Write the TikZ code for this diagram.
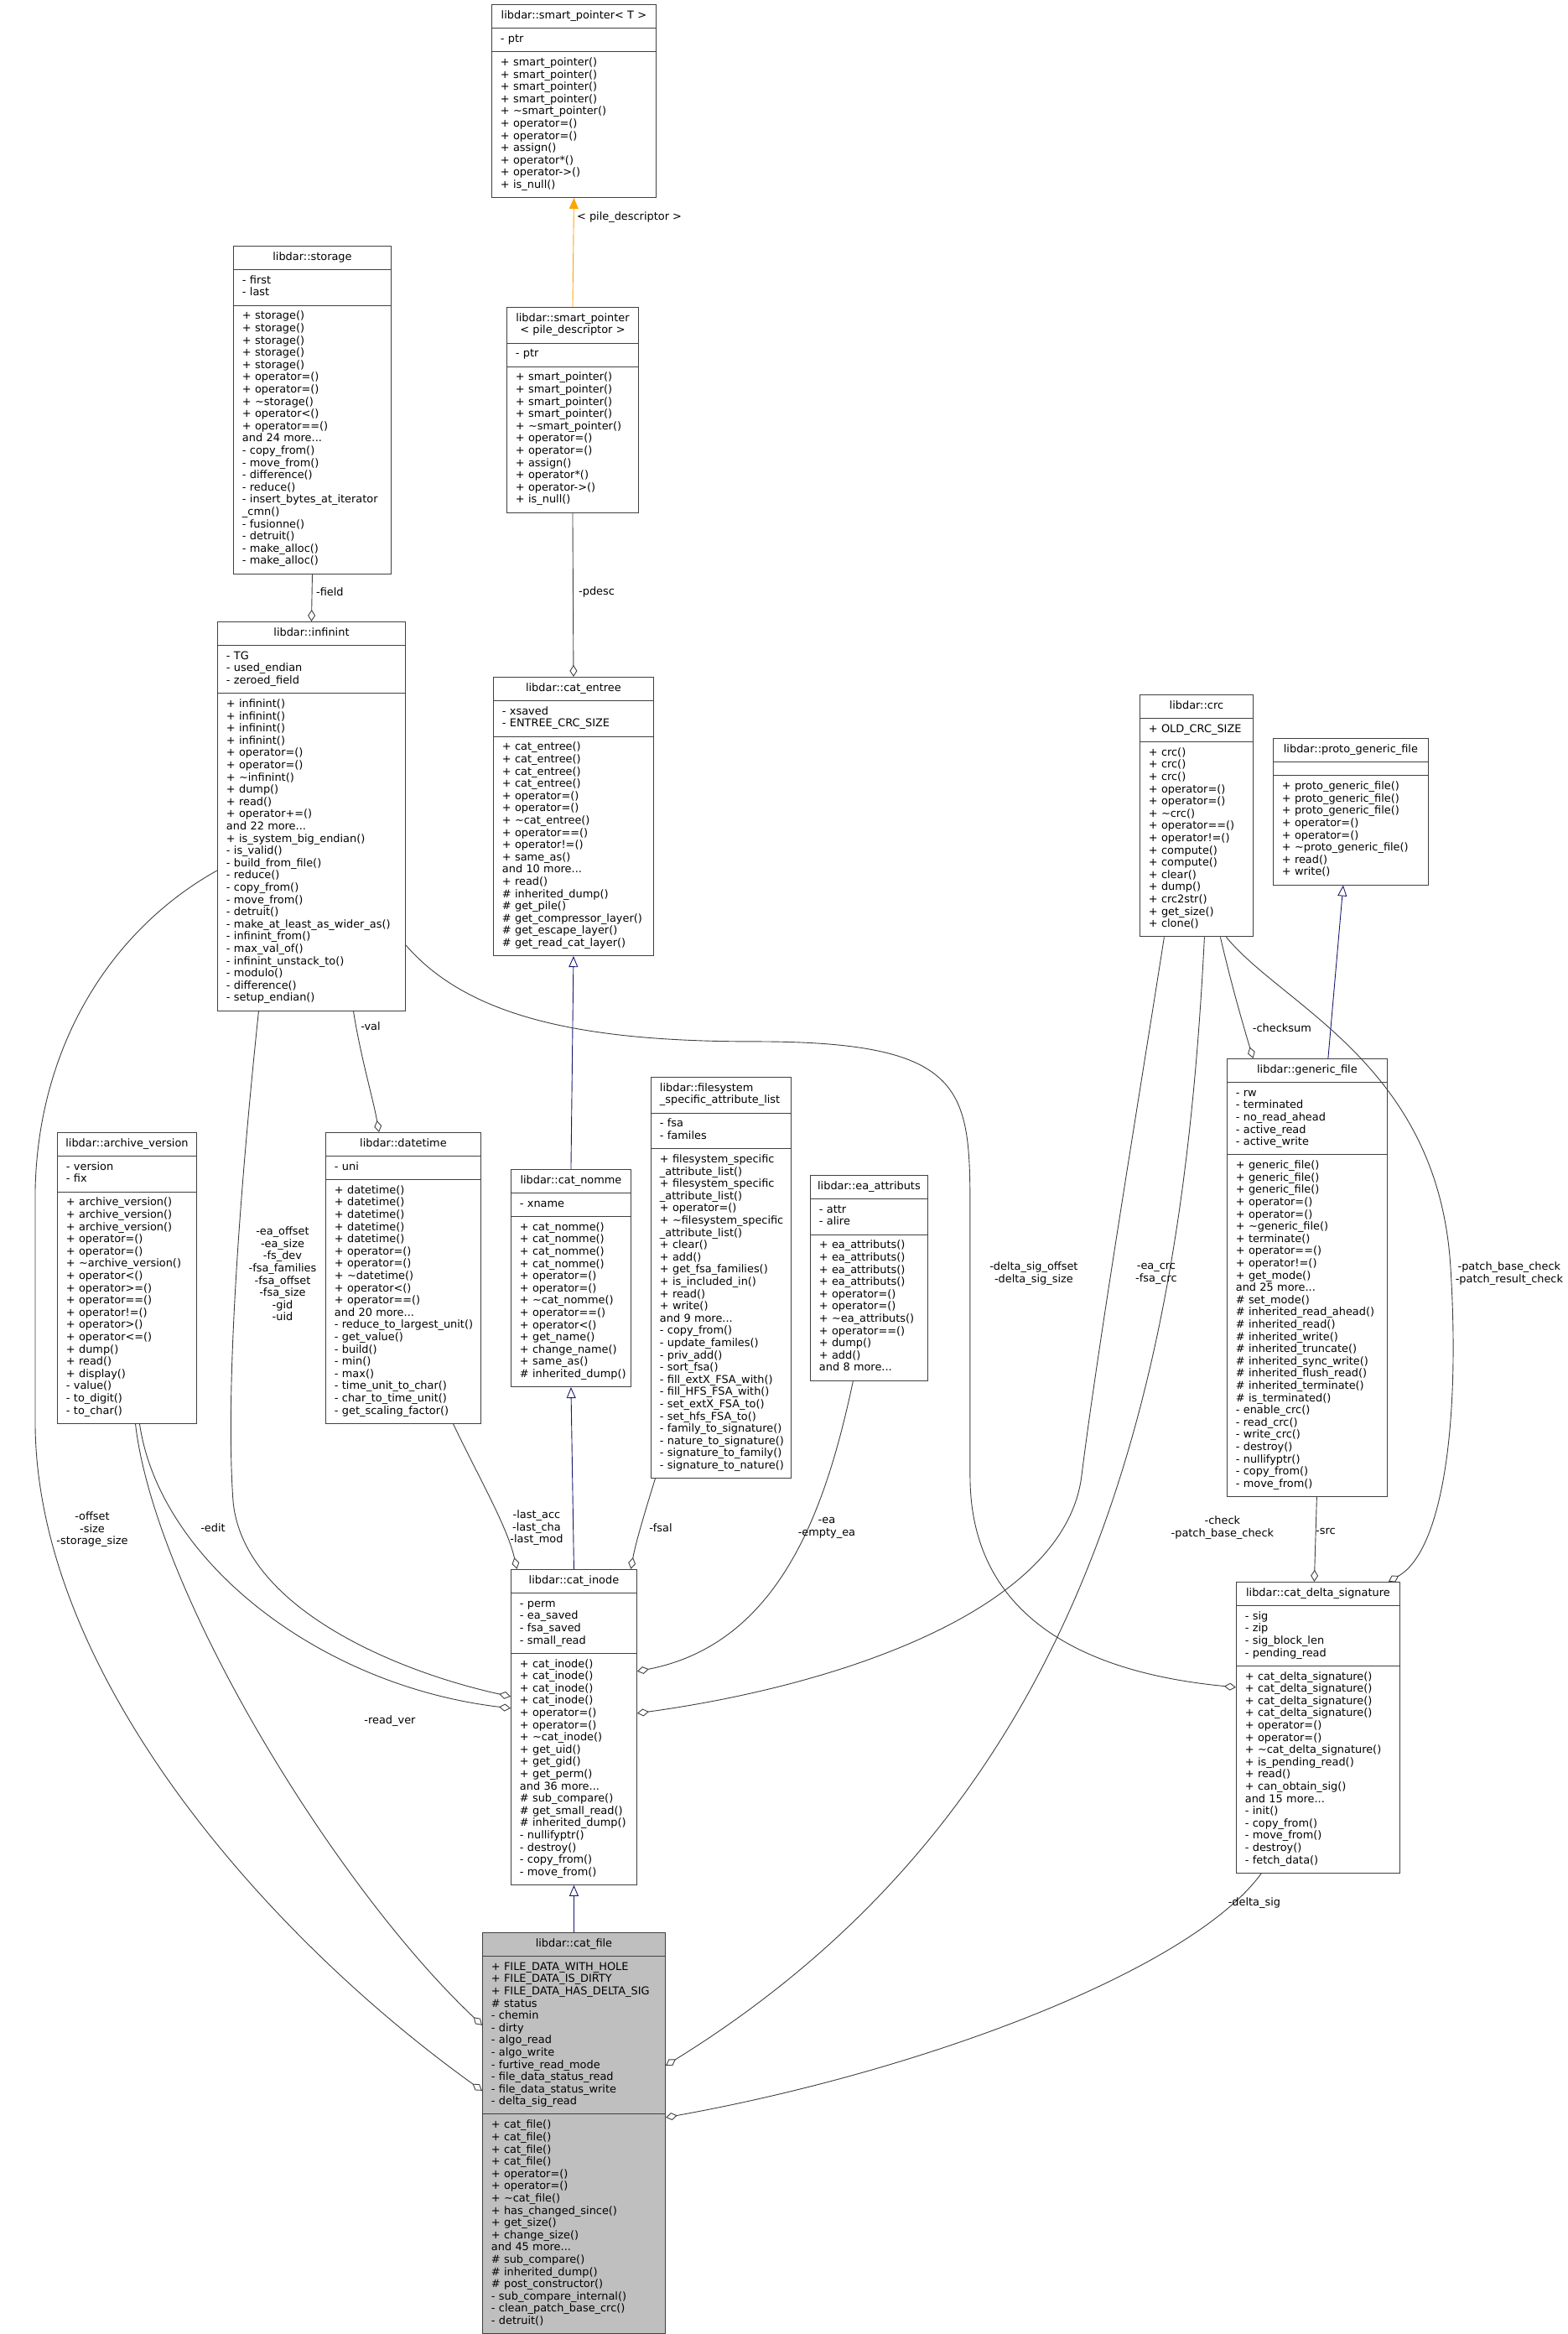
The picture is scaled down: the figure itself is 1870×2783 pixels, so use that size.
\documentclass[tikz,border=0pt]{standalone}
\usepackage{fontspec}
\setmainfont{DejaVu Sans}
\usetikzlibrary{arrows.meta, shapes.multipart}
\definecolor{navyHeranca}{RGB}{25,25,112}
\definecolor{laranjaModelo}{RGB}{255,165,0}
\definecolor{cinzaBorda}{RGB}{64,64,64}
\definecolor{cinzaFundo}{RGB}{191,191,191}
\newcommand{\umltitle}[1]{\noindent\makebox[\hsize][c]{\begin{tabular}{@{}c@{}}#1\end{tabular}}}
\newcommand{\umlrows}[1]{\noindent\begin{tabular}{@{}l@{}}#1\end{tabular}}

\begin{document}
\begin{tikzpicture}[
    x=1pt, y=-1pt,
    every node/.style={font=\fontsize{12.9}{14.6}\selectfont},
    classbox/.style={rectangle split, rectangle split parts=3, draw=cinzaBorda, line width=1pt, fill=white, text width=#1, inner xsep=10.5pt, inner ysep=6.2pt, anchor=north west},
    member/.style={draw=cinzaBorda, line width=0.9pt, -{Diamond[open, length=14pt, width=9pt]}},
    inherit/.style={draw=navyHeranca, line width=0.9pt, -{Triangle[open, length=13pt, width=11pt]}},
    template/.style={draw=laranjaModelo, line width=0.9pt, -{Triangle[length=13pt, width=11pt, fill=laranjaModelo]}},
    edgelabel/.style={align=center, inner sep=0pt}
]

    % fundo e margens
    \path[fill=white] (0,0) rectangle (1870,2783);

    % Classes do topo
    \node[classbox=175pt] (spt) at (586,5)
        {\umltitle{libdar::smart\_pointer< T >}
         \nodepart{two}\umlrows{- ptr}
         \nodepart{three}\umlrows{+ smart\_pointer()\\+ smart\_pointer()\\+ smart\_pointer()\\+ smart\_pointer()\\+ \textasciitilde smart\_pointer()\\+ operator=()\\+ operator=()\\+ assign()\\+ operator*()\\+ operator->()\\+ is\_null()}};

    \node[classbox=167pt] (storage) at (278,293)
        {\umltitle{libdar::storage}
         \nodepart{two}\umlrows{- first\\- last}
         \nodepart{three}\umlrows{+ storage()\\+ storage()\\+ storage()\\+ storage()\\+ storage()\\+ operator=()\\+ operator=()\\+ \textasciitilde storage()\\+ operator<()\\+ operator==()\\and 24 more...\\- copy\_from()\\- move\_from()\\- difference()\\- reduce()\\- insert\_bytes\_at\_iterator\\\_cmn()\\- fusionne()\\- detruit()\\- make\_alloc()\\- make\_alloc()}};

    \node[classbox=136pt] (sppd) at (604,366)
        {\umltitle{libdar::smart\_pointer\\< pile\_descriptor >}
         \nodepart{two}\umlrows{- ptr}
         \nodepart{three}\umlrows{+ smart\_pointer()\\+ smart\_pointer()\\+ smart\_pointer()\\+ smart\_pointer()\\+ \textasciitilde smart\_pointer()\\+ operator=()\\+ operator=()\\+ assign()\\+ operator*()\\+ operator->()\\+ is\_null()}};

    \node[classbox=203pt] (infinint) at (259,741)
        {\umltitle{libdar::infinint}
         \nodepart{two}\umlrows{- TG\\- used\_endian\\- zeroed\_field}
         \nodepart{three}\umlrows{+ infinint()\\+ infinint()\\+ infinint()\\+ infinint()\\+ operator=()\\+ operator=()\\+ \textasciitilde infinint()\\+ dump()\\+ read()\\+ operator+=()\\and 22 more...\\+ is\_system\_big\_endian()\\- is\_valid()\\- build\_from\_file()\\- reduce()\\- copy\_from()\\- move\_from()\\- detruit()\\- make\_at\_least\_as\_wider\_as()\\- infinint\_from()\\- max\_val\_of()\\- infinint\_unstack\_to()\\- modulo()\\- difference()\\- setup\_endian()}};

    \node[classbox=170pt] (catentree) at (588,807)
        {\umltitle{libdar::cat\_entree}
         \nodepart{two}\umlrows{- xsaved\\- ENTREE\_CRC\_SIZE}
         \nodepart{three}\umlrows{+ cat\_entree()\\+ cat\_entree()\\+ cat\_entree()\\+ cat\_entree()\\+ operator=()\\+ operator=()\\+ \textasciitilde cat\_entree()\\+ operator==()\\+ operator!=()\\+ same\_as()\\and 10 more...\\+ read()\\\# inherited\_dump()\\\# get\_pile()\\\# get\_compressor\_layer()\\\# get\_escape\_layer()\\\# get\_read\_cat\_layer()}};

    \node[classbox=114pt] (crc) at (1359,828)
        {\umltitle{libdar::crc}
         \nodepart{two}\umlrows{+ OLD\_CRC\_SIZE}
         \nodepart{three}\umlrows{+ crc()\\+ crc()\\+ crc()\\+ operator=()\\+ operator=()\\+ \textasciitilde crc()\\+ operator==()\\+ operator!=()\\+ compute()\\+ compute()\\+ clear()\\+ dump()\\+ crc2str()\\+ get\_size()\\+ clone()}};

    \node[classbox=164pt] (protogf) at (1518,880)
        {\umltitle{libdar::proto\_generic\_file}
         \nodepart{two}\umlrows{}
         \nodepart{three}\umlrows{+ proto\_generic\_file()\\+ proto\_generic\_file()\\+ proto\_generic\_file()\\+ operator=()\\+ operator=()\\+ \textasciitilde proto\_generic\_file()\\+ read()\\+ write()}};

    % Classes do meio
    \node[classbox=145pt] (archver) at (68,1350)
        {\umltitle{libdar::archive\_version}
         \nodepart{two}\umlrows{- version\\- fix}
         \nodepart{three}\umlrows{+ archive\_version()\\+ archive\_version()\\+ archive\_version()\\+ operator=()\\+ operator=()\\+ \textasciitilde archive\_version()\\+ operator<()\\+ operator>=()\\+ operator==()\\+ operator!=()\\+ operator>()\\+ operator<=()\\+ dump()\\+ read()\\+ display()\\- value()\\- to\_digit()\\- to\_char()}};

    \node[classbox=164pt] (datetime) at (388,1350)
        {\umltitle{libdar::datetime}
         \nodepart{two}\umlrows{- uni}
         \nodepart{three}\umlrows{+ datetime()\\+ datetime()\\+ datetime()\\+ datetime()\\+ datetime()\\+ operator=()\\+ operator=()\\+ \textasciitilde datetime()\\+ operator<()\\+ operator==()\\and 20 more...\\- reduce\_to\_largest\_unit()\\- get\_value()\\- build()\\- min()\\- max()\\- time\_unit\_to\_char()\\- char\_to\_time\_unit()\\- get\_scaling\_factor()}};

    \node[classbox=122pt] (catnomme) at (609,1394)
        {\umltitle{libdar::cat\_nomme}
         \nodepart{two}\umlrows{- xname}
         \nodepart{three}\umlrows{+ cat\_nomme()\\+ cat\_nomme()\\+ cat\_nomme()\\+ cat\_nomme()\\+ operator=()\\+ operator=()\\+ \textasciitilde cat\_nomme()\\+ operator==()\\+ operator<()\\+ get\_name()\\+ change\_name()\\+ same\_as()\\\# inherited\_dump()}};

    \node[classbox=146pt] (fsal) at (776,1284)
        {\umlrows{libdar::filesystem\\\_specific\_attribute\_list}
         \nodepart{two}\umlrows{- fsa\\- familes}
         \nodepart{three}\umlrows{+ filesystem\_specific\\\_attribute\_list()\\+ filesystem\_specific\\\_attribute\_list()\\+ operator=()\\+ \textasciitilde filesystem\_specific\\\_attribute\_list()\\+ clear()\\+ add()\\+ get\_fsa\_families()\\+ is\_included\_in()\\+ read()\\+ write()\\and 9 more...\\- copy\_from()\\- update\_familes()\\- priv\_add()\\- sort\_fsa()\\- fill\_extX\_FSA\_with()\\- fill\_HFS\_FSA\_with()\\- set\_extX\_FSA\_to()\\- set\_hfs\_FSA\_to()\\- family\_to\_signature()\\- nature\_to\_signature()\\- signature\_to\_family()\\- signature\_to\_nature()}};

    \node[classbox=119pt] (eaattr) at (966,1401)
        {\umltitle{libdar::ea\_attributs}
         \nodepart{two}\umlrows{- attr\\- alire}
         \nodepart{three}\umlrows{+ ea\_attributs()\\+ ea\_attributs()\\+ ea\_attributs()\\+ ea\_attributs()\\+ operator=()\\+ operator=()\\+ \textasciitilde ea\_attributs()\\+ operator==()\\+ dump()\\+ add()\\and 8 more...}};

    \node[classbox=170pt] (genericfile) at (1463,1262)
        {\umltitle{libdar::generic\_file}
         \nodepart{two}\umlrows{- rw\\- terminated\\- no\_read\_ahead\\- active\_read\\- active\_write}
         \nodepart{three}\umlrows{+ generic\_file()\\+ generic\_file()\\+ generic\_file()\\+ operator=()\\+ operator=()\\+ \textasciitilde generic\_file()\\+ terminate()\\+ operator==()\\+ operator!=()\\+ get\_mode()\\and 25 more...\\\# set\_mode()\\\# inherited\_read\_ahead()\\\# inherited\_read()\\\# inherited\_write()\\\# inherited\_truncate()\\\# inherited\_sync\_write()\\\# inherited\_flush\_read()\\\# inherited\_terminate()\\\# is\_terminated()\\- enable\_crc()\\- read\_crc()\\- write\_crc()\\- destroy()\\- nullifyptr()\\- copy\_from()\\- move\_from()}};

    % Classes de baixo
    \node[classbox=129pt] (catinode) at (609,1871)
        {\umltitle{libdar::cat\_inode}
         \nodepart{two}\umlrows{- perm\\- ea\_saved\\- fsa\_saved\\- small\_read}
         \nodepart{three}\umlrows{+ cat\_inode()\\+ cat\_inode()\\+ cat\_inode()\\+ cat\_inode()\\+ operator=()\\+ operator=()\\+ \textasciitilde cat\_inode()\\+ get\_uid()\\+ get\_gid()\\+ get\_perm()\\and 36 more...\\\# sub\_compare()\\\# get\_small\_read()\\\# inherited\_dump()\\- nullifyptr()\\- destroy()\\- copy\_from()\\- move\_from()}};

    \node[classbox=174pt] (catdelta) at (1474,1886)
        {\umltitle{libdar::cat\_delta\_signature}
         \nodepart{two}\umlrows{- sig\\- zip\\- sig\_block\_len\\- pending\_read}
         \nodepart{three}\umlrows{+ cat\_delta\_signature()\\+ cat\_delta\_signature()\\+ cat\_delta\_signature()\\+ cat\_delta\_signature()\\+ operator=()\\+ operator=()\\+ \textasciitilde cat\_delta\_signature()\\+ is\_pending\_read()\\+ read()\\+ can\_obtain\_sig()\\and 15 more...\\- init()\\- copy\_from()\\- move\_from()\\- destroy()\\- fetch\_data()}};

    \node[classbox=197pt, fill=cinzaFundo] (catfile) at (575,2304)
        {\umltitle{libdar::cat\_file}
         \nodepart{two}\umlrows{+ FILE\_DATA\_WITH\_HOLE\\+ FILE\_DATA\_IS\_DIRTY\\+ FILE\_DATA\_HAS\_DELTA\_SIG\\\# status\\- chemin\\- dirty\\- algo\_read\\- algo\_write\\- furtive\_read\_mode\\- file\_data\_status\_read\\- file\_data\_status\_write\\- delta\_sig\_read}
         \nodepart{three}\umlrows{+ cat\_file()\\+ cat\_file()\\+ cat\_file()\\+ cat\_file()\\+ operator=()\\+ operator=()\\+ \textasciitilde cat\_file()\\+ has\_changed\_since()\\+ get\_size()\\+ change\_size()\\and 45 more...\\\# sub\_compare()\\\# inherited\_dump()\\\# post\_constructor()\\- sub\_compare\_internal()\\- clean\_patch\_base\_crc()\\- detruit()}};

    % Heranca e modelo
    \draw[template] (sppd.north) -- (spt.south);
    \draw[inherit] (catnomme.north) -- (catentree.south);
    \draw[inherit] (catinode.north) -- (catnomme.south);
    \draw[inherit] (catfile.north) -- (catinode.south);
    \draw[inherit] ([xshift=25pt]genericfile.north) -- ([xshift=-9pt]protogf.south);

    % Membros (losango no dono)
    \draw[member] (sppd.south) -- (catentree.north);
    \draw[member] (storage.south) -- (infinint.north);
    \draw[member] ([xshift=50pt]infinint.south) .. controls (430,1260) and (445,1310) .. ([xshift=-29pt]datetime.north);
    \draw[member] ([xshift=-63pt]infinint.south) .. controls (288,1400) and (268,1650) .. (278,1790)
        .. controls (290,1920) and (480,1995) .. ([yshift=-152pt]catinode.north west);
    \draw[member] ([xshift=15pt]archver.south) .. controls (190,1860) and (380,2010) .. ([yshift=-166pt]catinode.north west);
    \draw[member] ([xshift=10pt]archver.south) .. controls (185,1900) and (400,2250) .. ([yshift=-111pt]catfile.north west);
    \draw[member] ([yshift=-297pt]infinint.north west) .. controls (130,1110) and (45,1250) .. (42,1420) -- (42,1700)
        .. controls (45,2000) and (320,2310) .. ([yshift=-189pt]catfile.north west);
    \draw[member] ([xshift=59.5pt]datetime.south) .. controls (570,1760) and (605,1820) .. ([xshift=-68pt]catinode.north);
    \draw[member] ([xshift=-78.5pt]fsal.south) .. controls (770,1800) and (758,1840) .. ([xshift=68pt]catinode.north);
    \draw[member] ([xshift=-19pt]eaattr.south) .. controls (985,1800) and (930,1960) .. ([yshift=-122pt]catinode.north east);
    \draw[member] ([xshift=-38.5pt]crc.south) .. controls (1360,1300) and (1310,1600) .. (1290,1760)
        .. controls (1270,1920) and (1000,2010) .. ([yshift=-172pt]catinode.north east);
    \draw[member] ([xshift=9.5pt]crc.south) .. controls (1410,1650) and (1300,2150) .. ([yshift=-159pt]catfile.north east);
    \draw[member] ([xshift=28.5pt]crc.south) .. controls (1470,1180) and (1485,1230) .. ([xshift=-64.5pt]genericfile.north);
    \draw[member] ([xshift=35.5pt]crc.south) .. controls (1530,1200) and (1715,1270) .. (1730,1510)
        .. controls (1742,1700) and (1720,1850) .. ([xshift=-14pt]catdelta.north east);
    \draw[member] ([xshift=11.5pt]genericfile.south) -- ([xshift=-4.5pt]catdelta.north);
    \draw[member] ([xshift=-67.5pt]catdelta.south) .. controls (1420,2350) and (1100,2470) .. ([yshift=-221pt]catfile.north east);
    \draw[member] ([yshift=-386pt]infinint.north east) .. controls (560,1215) and (700,1242) .. (900,1242)
        .. controls (1157,1242) and (1157,1300) .. (1157,1450) -- (1157,1760)
        .. controls (1157,1960) and (1350,2000) .. ([yshift=-126pt]catdelta.north west);

    % Rotulos das ligacoes
    \node[edgelabel, anchor=west] (lbl-modelo) at (688,259) {< pile\_descriptor >};
    \node[edgelabel, anchor=west] (lbl-pdesc) at (690,706) {-pdesc};
    \node[edgelabel, anchor=west] (lbl-field) at (377,706) {-field};
    \node[edgelabel] (lbl-val) at (442,1224) {-val};
    \node[edgelabel] (lbl-eaoffset) at (337,1519) {-ea\_offset\\-ea\_size\\-fs\_dev\\-fsa\_families\\-fsa\_offset\\-fsa\_size\\-gid\\-uid};
    \node[edgelabel] (lbl-edit) at (254,1822) {-edit};
    \node[edgelabel] (lbl-last) at (640,1822) {-last\_acc\\-last\_cha\\-last\_mod};
    \node[edgelabel] (lbl-fsal) at (788,1822) {-fsal};
    \node[edgelabel] (lbl-ea) at (986,1822) {-ea\\-empty\_ea};
    \node[edgelabel] (lbl-eacrc) at (1379,1519) {-ea\_crc\\-fsa\_crc};
    \node[edgelabel] (lbl-dsoffset) at (1233,1519) {-delta\_sig\_offset\\-delta\_sig\_size};
    \node[edgelabel] (lbl-check) at (1458,1822) {-check\\-patch\_base\_check};
    \node[edgelabel] (lbl-checksum) at (1529,1226) {-checksum};
    \node[edgelabel] (lbl-src) at (1581,1826) {-src};
    \node[edgelabel] (lbl-patch) at (1800,1519) {-patch\_base\_check\\-patch\_result\_check};
    \node[edgelabel] (lbl-readver) at (465,2052) {-read\_ver};
    \node[edgelabel] (lbl-offset) at (110,1824) {-offset\\-size\\-storage\_size};
    \node[edgelabel] (lbl-deltasig) at (1496,2269) {-delta\_sig};

\end{tikzpicture}
\end{document}
